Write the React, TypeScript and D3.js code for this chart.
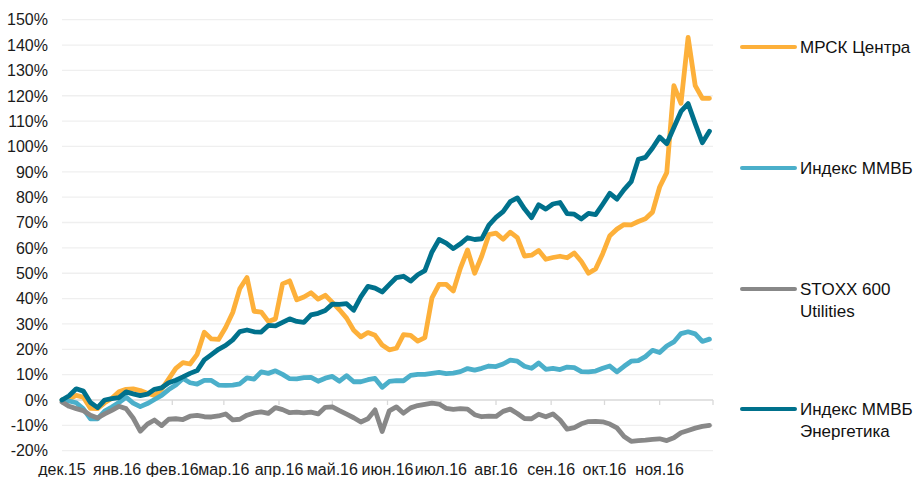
import * as d3 from "d3";

// samples every 4 days from 1 Dec 2015
const dates = d3.timeDay.range(new Date(2015, 11, 1), new Date(2016, 11, 1), 4);

const mrsk = [
  0, 0.4, 1.8, 1.1, -3.3, -3.4, -1.1, 0.7, 3.2, 4.2, 4.4, 3.7, 2.7, 1.8, 4.2, 8.3, 12.5, 14.7, 14.2, 18,
  26.7, 24.1, 23.9, 28.6, 34.5, 44, 48.3, 35, 34.7, 31, 32, 45.8, 47, 39.5, 40.6, 42.3, 39.8, 41.3, 38.5, 35.6,
  32.3, 27.5, 24.9, 26.6, 25.5, 21.7, 19.8, 20.4, 25.8, 25.5, 23.2, 24.6, 40.3, 45.6, 45.6, 43, 52, 59.2, 50, 56.8,
  65.2, 65.8, 63.4, 66.2, 64, 56.8, 57.1, 59, 55.5, 56.2, 56.7, 56.1, 58, 54.6, 50, 51.7, 57.7, 64.8, 67.4, 69.2,
  69.1, 70.4, 71.5, 74.1, 84, 89.7, 124, 117, 143, 124, 119, 119,
];
const mmvb = [
  0, -0.4, -1.1, -3.5, -7.4, -7.4, -4.4, -2.8, -1, 1.1, -1.2, -2.6, -1.4, 0.2, 1.8, 4.1, 5.9, 8.5, 6.8, 6.3,
  7.7, 7.7, 5.9, 5.8, 5.9, 6.4, 8.7, 8.2, 11.1, 10.5, 11.5, 10.1, 8.4, 8.3, 8.8, 8.9, 7.4, 8.6, 9.3, 7.4,
  9.6, 7.2, 7.2, 8, 8.5, 5, 7.3, 7.6, 7.6, 9.7, 10.1, 10.1, 10.5, 10.9, 10.4, 10.6, 11.2, 12.4, 11.8, 12.5,
  13.4, 13.2, 14.2, 15.7, 15.3, 13.3, 12.5, 14.6, 12.1, 12.5, 12, 13, 12.8, 11.2, 11.1, 11.4, 12.5, 13.4, 11.1, 13.3,
  15.3, 15.5, 17.1, 19.6, 18.7, 21.3, 22.9, 26.2, 26.9, 26.1, 23.1, 24,
];
const stoxx = [
  -0.8, -2.5, -3.4, -4.2, -6, -7.1, -5.5, -4.1, -2.5, -3.4, -7.1, -12.3, -9.5, -7.9, -10.1, -7.6, -7.4, -7.7, -6.4, -6.1,
  -6.6, -6.7, -6.3, -5.5, -7.8, -7.6, -6, -5.1, -4.7, -5.3, -3, -3.8, -5, -4.8, -5.1, -4.8, -5.5, -2.9, -2.7, -4.2,
  -5.6, -7, -8.7, -7.4, -3.9, -12.4, -4.3, -2.7, -5.2, -3.1, -2.2, -1.7, -1.2, -1.6, -3.3, -3.7, -3.4, -3.6, -5.8, -6.6,
  -6.4, -6.5, -4.5, -3.6, -5.3, -7.3, -7.4, -5.6, -6.6, -5.5, -7.9, -11.5, -10.9, -9.4, -8.5, -8.4, -8.6, -9.5, -11, -14.4,
  -16.3, -16, -15.8, -15.5, -15.3, -16, -14.9, -12.9, -12, -11.1, -10.4, -10,
];
const energy = [
  0, 1.7, 4.4, 3.5, -1, -3, 0, 0.5, 0.9, 3.2, 2.4, 1.7, 2.3, 4.2, 4.8, 6.8, 7.8, 9.1, 10.5, 11.6,
  15.8, 17.9, 20, 21.5, 23.7, 27, 27.6, 26.9, 26.8, 29.4, 29.2, 30.6, 32, 31, 30.6, 33.6, 34.2, 35.3, 37.8, 37.7,
  38, 35.4, 40.7, 44.8, 44.1, 42.6, 45.5, 48.3, 48.8, 46.9, 49.4, 51, 58.4, 63.3, 61.9, 59.7, 61.6, 64, 63.3, 63.6,
  69, 72, 74.3, 78.2, 79.7, 75.4, 71.9, 77, 75.3, 77.3, 77.9, 73.5, 73.3, 71.4, 73.6, 73.1, 77.2, 81.5, 79.2, 83,
  86.1, 94.9, 95.7, 99.4, 103.7, 101.1, 107.5, 113.8, 116.9, 109, 101.5, 106,
];

const seriesNames = [["МРСК Центра"], ["Индекс ММВБ"], ["STOXX 600", "Utilities"], ["Индекс ММВБ", "Энергетика"]];
const seriesValues = [mrsk, mmvb, stoxx, energy];
const seriesColors = ["#FDB03A", "#4BAFCA", "#888888", "#00718C"];

const monthLabels = ["дек.15", "янв.16", "фев.16", "мар.16", "апр.16", "май.16", "июн.16", "июл.16", "авг.16", "сен.16", "окт.16", "ноя.16"];
const yTicks = d3.range(-20, 151, 10);

const font = "'Liberation Sans', Arial, sans-serif";

export default function App() {
  const width = 922;
  const height = 477;
  const x = d3.scaleTime([new Date(2015, 11, 1), new Date(2016, 11, 1)], [62, 713]);
  const y = d3.scaleLinear([-20, 150], [450.7, 19.7]);
  const months = d3.timeMonth.range(new Date(2015, 11, 1), new Date(2016, 11, 2));
  const line = d3
    .line<number>()
    .x((_, i) => x(dates[i]))
    .y((d) => y(d));
  const legendY = [47, 168, 289, 409];

  return (
    <svg width={width} height={height} style={{ position: "absolute", left: 0, top: 0, fontFamily: font }}>
      <rect width={width} height={height} fill="#fff" />
      <g>
        {yTicks.map((t) => (
          <g key={t}>
            <line x1={62} x2={713} y1={y(t)} y2={y(t)} stroke={t === 0 ? "#d9d9d9" : "#efefef"} strokeWidth={1.3} />
            <text x={48} y={y(t)} dy="0.36em" textAnchor="end" fontSize={16} fill="#1a1a1a">
              {t}%
            </text>
          </g>
        ))}
      </g>
      <g>
        {months.map((m, i) => (
          <g key={i}>
            <line x1={x(m)} x2={x(m)} y1={y(0)} y2={y(0) + 5} stroke="#d9d9d9" strokeWidth={1.3} />
            {i < monthLabels.length && (
              <text x={x(m)} y={475} textAnchor="middle" fontSize={16} fill="#1a1a1a">
                {monthLabels[i]}
              </text>
            )}
          </g>
        ))}
      </g>
      <g fill="none" strokeWidth={4.8} strokeLinejoin="round" strokeLinecap="round">
        {seriesValues.map((vals, i) => (
          <path key={i} d={line(vals) || undefined} stroke={seriesColors[i]} />
        ))}
      </g>
      <g>
        {seriesNames.map((lines, i) => (
          <g key={i}>
            <line x1={742} x2={795} y1={legendY[i]} y2={legendY[i]} stroke={seriesColors[i]} strokeWidth={4} strokeLinecap="round" />
            {lines.map((s, j) => (
              <text key={j} x={800} y={legendY[i] + j * 22} dy="0.36em" fontSize={17} fill="#111">
                {s}
              </text>
            ))}
          </g>
        ))}
      </g>
    </svg>
  );
}
